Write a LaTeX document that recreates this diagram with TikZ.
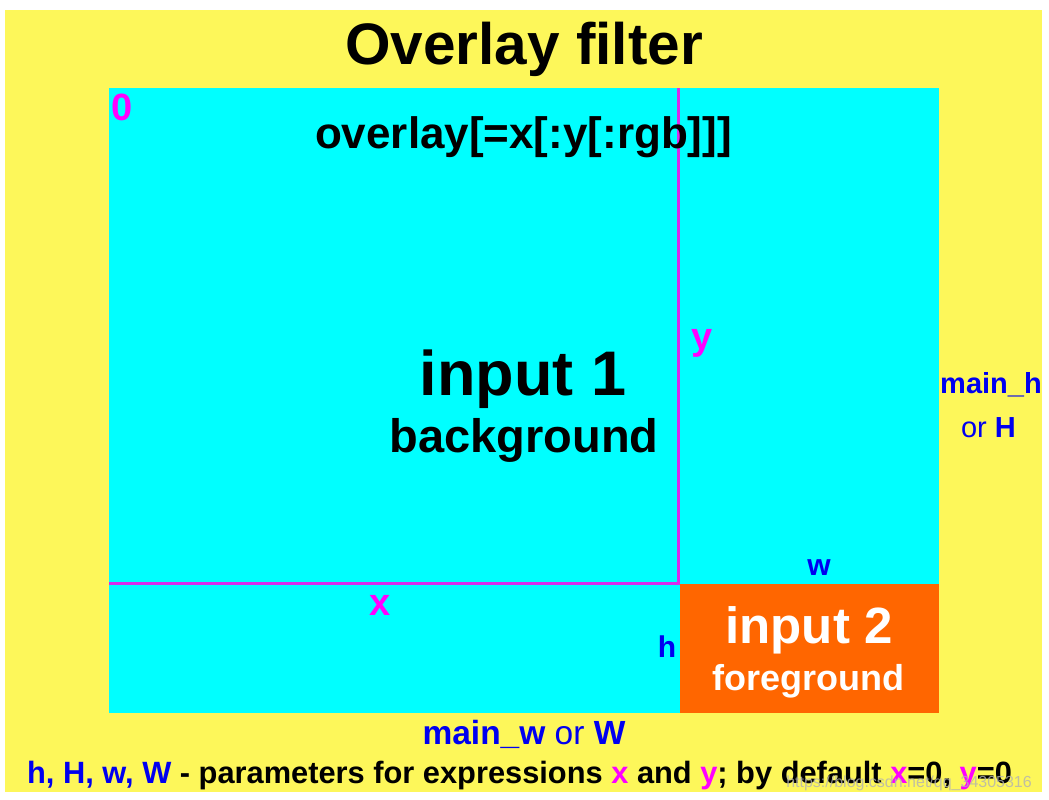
\documentclass[tikz,border=0pt]{standalone}
\usepackage{fontspec}
\setmainfont{Liberation Sans}
\usetikzlibrary{positioning, calc}
\definecolor{amarillo}{HTML}{FDF75A}
\definecolor{cian}{HTML}{00FFFF}
\definecolor{naranja}{HTML}{FF6600}
\definecolor{magenta2}{HTML}{FF00FF}
\definecolor{linmag}{HTML}{D82CEB}
\definecolor{azul}{HTML}{0000F0}
\newcommand{\tam}[1]{\fontsize{#1}{#1}\selectfont\bfseries}
\tikzset{
    fondo/.style={rectangle, fill=cian, inner sep=0pt, minimum width=830pt, minimum height=625pt},
    frente/.style={rectangle, fill=naranja, inner sep=0pt, minimum width=259pt, minimum height=129.5pt},
    linea/.style={draw=linmag, line width=3pt},
    texto/.style={inner sep=0pt, anchor=base},
    param/.style={texto, text=magenta2, font=\tam{38}},
    medida/.style={texto, text=azul, font=\tam{30}}}

\begin{document}
\begin{tikzpicture}[x=1pt, y=-1pt]
    \useasboundingbox (0,0) rectangle (1049,800);
    \fill[white] (0,0) rectangle (1049,800);
    \fill[amarillo] (5,10) rectangle (1042,792);

    \node (bg) [fondo] at (524,400.5) {};
    \draw[linea] (678.5,88) -- (678.5,583.5) coordinate (esq) -- (109,583.5);
    \node (fg) [frente] at (809,648.25) {};

    \node (tit) [texto, font=\tam{58.5}] at (524,65) {Overlay filter};
    \node (sint) [texto, font=\tam{44}] at (523.5,148) {overlay[=x[:y[:rgb]]]};
    \node (in1) [texto, font=\tam{63}] at (523,395) {input 1};
    \node (bgt) [texto, font=\tam{47}] at (524,452) {background};
    \node (in2) [texto, text=white, font=\tam{51}] at (809,643) {input 2};
    \node (fgt) [texto, text=white, font=\tam{36}] at (808,690) {foreground};

    \node (cero) [param] at (122,120) {0};
    \node (px) [param] at (380,615) {x};
    \node (py) [param] at (702,349) {y};
    \node (pw) [medida] at (819,575) {w};
    \node (ph) [medida] at (667,657) {h};

    \node (mw) [texto, text=azul, font=\tam{33.5}] at (524,744)
        {main\_w \mdseries or \bfseries W};
    \node (mh) [texto, text=azul, font=\tam{29}] at (991,393) {main\_h};
    \node (oh) [texto, text=azul, font=\tam{29}] at (988.5,437)
        {\mdseries or \bfseries H};

    \node (nota) [texto, font=\tam{30.8}] at (519.5,783)
        {\textcolor{azul}{h, H, w, W} - parameters for expressions
        \textcolor{magenta2}{x} and \textcolor{magenta2}{y}; by default
        \textcolor{magenta2}{x}=0, \textcolor{magenta2}{y}=0};
    \node (marca) [texto, anchor=base east, text=black!30, opacity=0.8,
        font=\fontsize{16}{16}\selectfont] at (1032,787)
        {https://blog.csdn.net/qq\_34305316};
\end{tikzpicture}
\end{document}
